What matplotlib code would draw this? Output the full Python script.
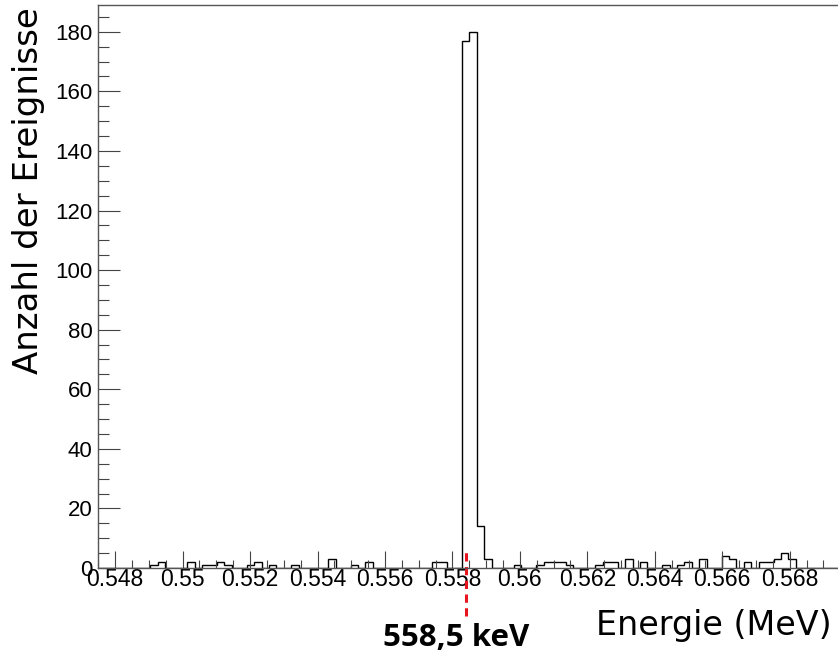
import numpy as np
import matplotlib
matplotlib.use("Agg")
import matplotlib.pyplot as plt
from matplotlib.ticker import MultipleLocator

# --- histogram data (100 bins, 0.5475 - 0.5695 MeV) ---
e_min = 0.5475
e_max = 0.5695
counts = [
    0, 0, 0, 0, 0, 0, 0, 1, 2, 0, 0, 0, 2, 0, 1, 1, 2, 1, 0, 0,
    1, 2, 0, 1, 0, 0, 1, 0, 0, 0, 0, 3, 0, 0, 1, 0, 2, 0, 0, 0,
    0, 0, 0, 0, 0, 2, 2, 0, 0, 177, 180, 14, 3, 0, 0, 0, 1, 0, 0, 1,
    2, 2, 2, 1, 0, 0, 0, 1, 2, 2, 0, 3, 0, 2, 0, 0, 1, 0, 1, 2,
    0, 3, 0, 0, 4, 3, 0, 2, 0, 2, 2, 3, 5, 3, 0, 0, 0, 0, 0, 0,
]
peak_energy = 0.5584
peak_label = "558,5 keV"
x_label = "Energie (MeV)"
y_label = "Anzahl der Ereignisse"

edges = np.linspace(e_min, e_max, len(counts) + 1)

fig = plt.figure(figsize=(8.38, 6.53), dpi=100)
ax = fig.add_axes([98.3 / 838, 1 - 568 / 653, 742 / 838, 563 / 653])

ax.stairs(counts, edges, color="black", linewidth=1.0)

ax.set_xlim(e_min, e_max)
ax.set_ylim(0, 1.05 * max(counts))

# ROOT-like ticks
ax.xaxis.set_major_locator(MultipleLocator(0.002))
ax.xaxis.set_minor_locator(MultipleLocator(0.0005))
ax.yaxis.set_major_locator(MultipleLocator(20))
ax.yaxis.set_minor_locator(MultipleLocator(5))
ax.xaxis.set_major_formatter(plt.FuncFormatter(lambda v, p: f"{v:.3f}".rstrip("0")))
ax.tick_params(axis="x", which="major", direction="in", length=12.2, width=0.8,
               labelsize=16.5, pad=0, color="#444444")
ax.tick_params(axis="x", which="minor", direction="in", length=6.1, width=0.8, color="#444444")
ax.tick_params(axis="y", which="major", direction="in", length=15.8, width=0.8,
               labelsize=16, pad=4, color="#444444")
ax.tick_params(axis="y", which="minor", direction="in", length=7.9, width=0.8, color="#444444")
for lab in ax.get_xticklabels() + ax.get_yticklabels():
    lab.set_family("Liberation Sans")
for s in ax.spines.values():
    s.set_color("#555555")
    s.set_linewidth(1.0)

# marker of the peak position
ax.plot([peak_energy, peak_energy], [-16.1, 6.7], color="#e8141e", linewidth=2.2,
        dashes=(2.7, 1.8), clip_on=False)

fig.text(456 / 838, 1 - 646 / 653, peak_label, ha="center", va="baseline",
         fontsize=22.5, fontweight="bold", family="Open Sans")
fig.text(832 / 838, 1 - 635 / 653, x_label, ha="right", va="baseline",
         fontsize=24, family="DejaVu Sans")
fig.text(29 / 838, 1 - 191 / 653, y_label, ha="center", va="center", rotation=90,
         fontsize=24.5, family="DejaVu Sans")

fig.savefig("out.png", dpi=100)
